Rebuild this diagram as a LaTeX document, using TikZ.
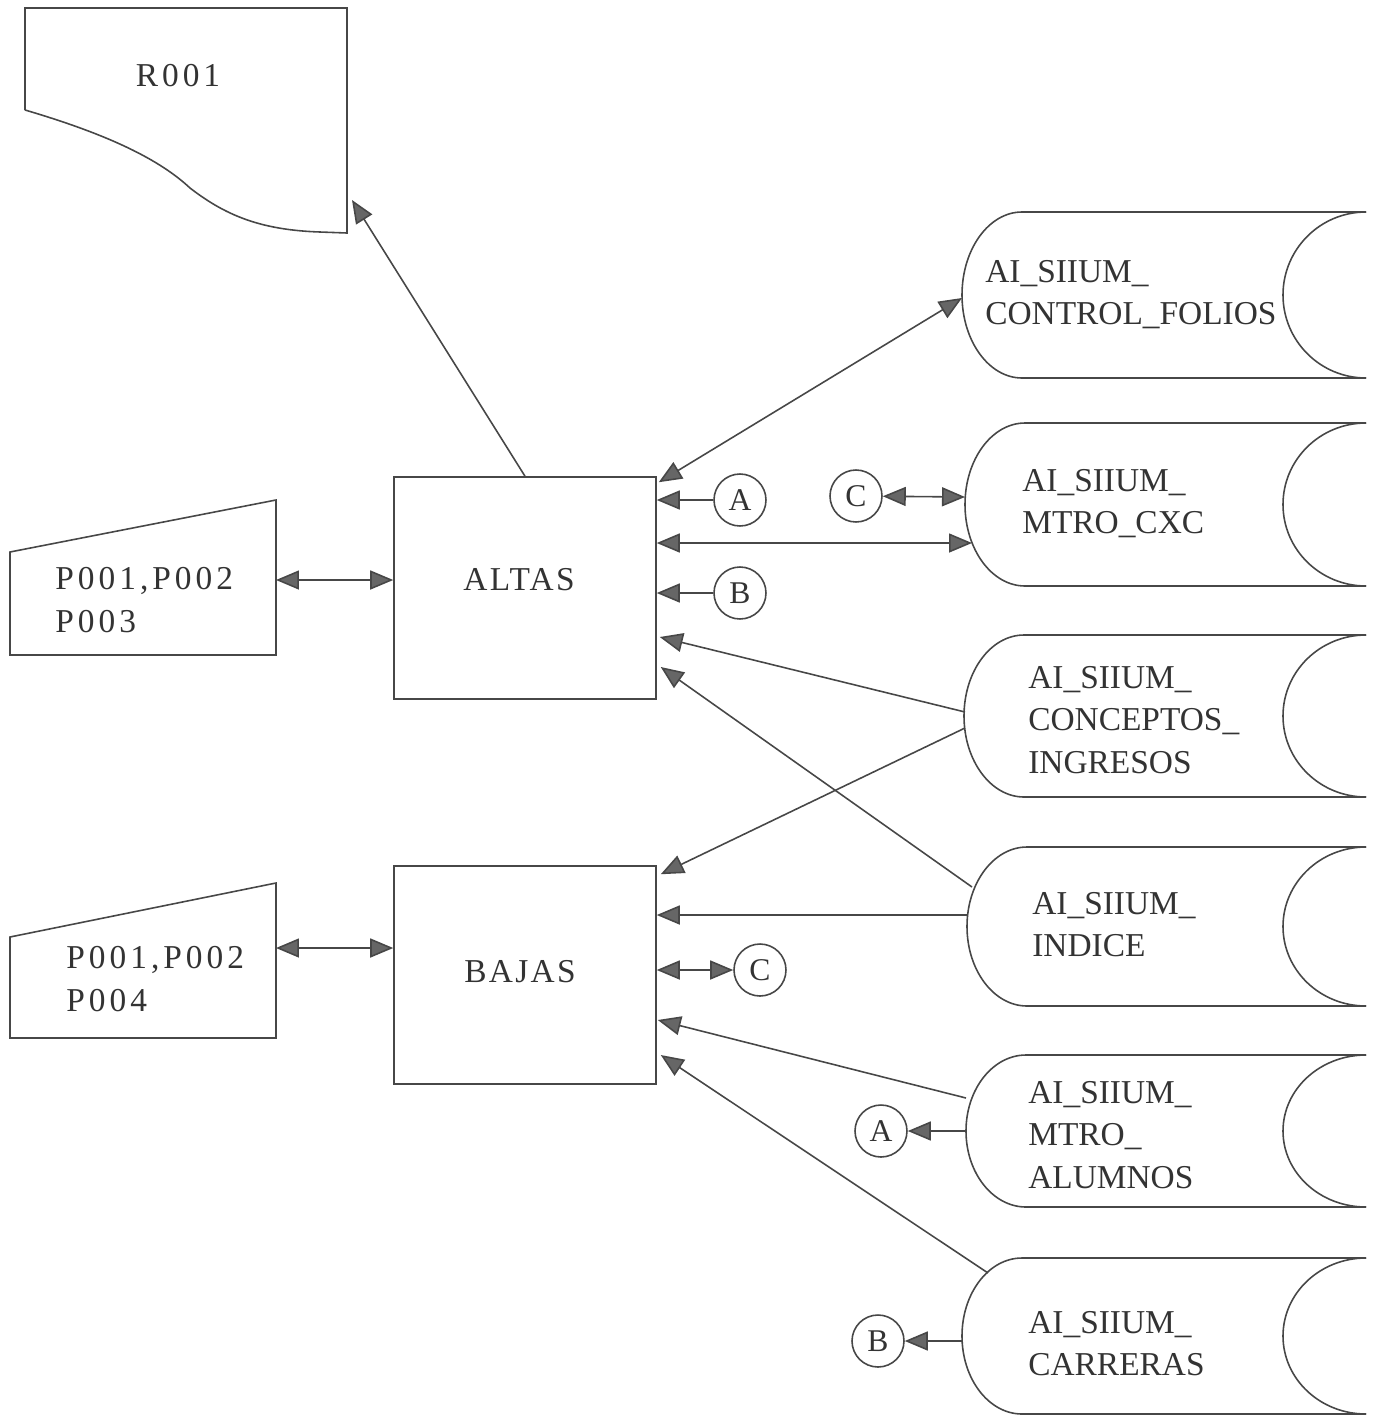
\documentclass[tikz,border=0pt]{standalone}
\usepackage{fontspec}
\setmainfont{Liberation Serif}
\newfontfamily\widefont[LetterSpace=12]{Liberation Serif}
\newfontfamily\midfont[LetterSpace=7]{Liberation Serif}
\usetikzlibrary{arrows.meta,calc}
\newcommand{\storageshape}[3]{% top, bottom, leftmost x
  \pgfmathsetmacro\hh{(#2-#1)/2}
  \draw[ln] (1366,#1) -- (#3+60,#1) arc[start angle=270,end angle=90,x radius=60,y radius=\hh] -- (1366,#2);
  \draw[ln] (1366,#1) arc[start angle=270,end angle=90,x radius=83,y radius=\hh];
}
\begin{document}
\begin{tikzpicture}[x=0.02cm,y=-0.02cm,
  ln/.style={draw=black!72, line width=0.9pt},
  >={Triangle[length=4.6mm,width=3.8mm,fill=black!60]},
  arr/.style={ln,->},
  darr/.style={ln,<->},
  txt/.style={font=\fontsize{19pt}{24pt}\selectfont, text=black!80, inner sep=0pt, align=left},
  procbox/.style={ln, minimum width=5.24cm, inner sep=0pt, font=\fontsize{19pt}{24pt}\selectfont\midfont, text=black!80},
  conn/.style={ln, circle, minimum size=1.04cm, inner sep=0pt, font=\fontsize{18pt}{22pt}\selectfont, text=black!80}]
\useasboundingbox (0,0) rectangle (1376,1417);

% ---- R001 report ----
\draw[ln] (25,110) -- (25,8) -- (347,8) -- (347,233) -- (320,232)
  .. controls (260,230) and (225,215) .. (190,188)
  .. controls (160,160) and (110,135) .. (25,110);
\node[txt, font=\fontsize{19pt}{24pt}\selectfont\widefont] (r001) at (178,76) {R001};
\coordinate (r001in) at (352,200);

% ---- process boxes ----
\node[procbox, minimum height=4.44cm] (altas) at (525,588) {\hspace*{-0.24cm}\raisebox{0.36cm}{ALTAS}};
\node[procbox, minimum height=4.36cm] (bajas) at (525,975) {\hspace*{-0.2cm}\raisebox{0.16cm}{BAJAS}};

% ---- screens ----
\draw[ln] (10,655) -- (10,552) -- (276,500) -- (276,655) -- cycle;
\node[txt, font=\fontsize{19pt}{24pt}\selectfont\widefont, anchor=west] (p1) at (55,600) {P001,P002\\P003};
\coordinate (p1r) at (276,580);
\draw[ln] (10,1038) -- (10,937) -- (276,883) -- (276,1038) -- cycle;
\node[txt, font=\fontsize{19pt}{24pt}\selectfont\widefont, anchor=west] (p2) at (66,979) {P001,P002\\P004};
\coordinate (p2r) at (276,948);

% ---- storage shapes ----
\storageshape{212}{378}{962}
\node[txt, anchor=west] (s1) at (985,295) {AI\_SIIUM\_\\CONTROL\_FOLIOS};
\storageshape{423}{586}{965}
\node[txt, anchor=west] (s2) at (1022,504) {AI\_SIIUM\_\\MTRO\_CXC};
\storageshape{635}{797}{964}
\node[txt, anchor=west] (s3) at (1028,720) {AI\_SIIUM\_\\CONCEPTOS\_\\INGRESOS};
\storageshape{847}{1006}{967}
\node[txt, anchor=west] (s4) at (1032,925) {AI\_SIIUM\_\\INDICE};
\storageshape{1055}{1207}{966}
\node[txt, anchor=west] (s5) at (1028,1135) {AI\_SIIUM\_\\MTRO\_\\ALUMNOS};
\storageshape{1258}{1414}{962}
\node[txt, anchor=west] (s6) at (1028,1344) {AI\_SIIUM\_\\CARRERAS};

% arc attachment points
\coordinate (s1a) at (962,298);
\coordinate (s2a) at (965,497);
\coordinate (s2b) at (972,543);
\coordinate (s3a) at (965,712);
\coordinate (s3b) at (965,728);
\coordinate (s4a) at (972,887);
\coordinate (s4b) at (967,915);
\coordinate (s5a) at (966,1098);
\coordinate (s5b) at (966,1131);
\coordinate (s6a) at (988,1273);
\coordinate (s6b) at (962,1341);

% ---- connectors (off-page) ----
\node[conn] (cA1) at (740,500) {A};
\node[conn] (cB1) at (740,593) {B};
\node[conn] (cC1) at (856,496) {C};
\node[conn] (cC2) at (760,970) {C};
\node[conn] (cA2) at (881,1131) {A};
\node[conn] (cB2) at (878,1341) {B};

% ---- flows ----
\draw[arr] (altas.north) -- (r001in);
\draw[darr] (p1r) -- (altas.west |- p1r);
\draw[darr] (p2r) -- (bajas.west |- p2r);

\draw[darr] ($(altas.north east)+(2,6)$) -- (s1a);
\draw[arr] (cA1) -- (altas.east |- cA1);
\draw[darr] (cC1) -- (s2a);
\draw[darr] (altas.east |- s2b) -- (s2b);
\draw[arr] (cB1) -- (altas.east |- cB1);
\draw[arr] (s3a) -- ($(altas.east)+(3,49)$);
\draw[arr] (s4a) -- ($(altas.east)+(4,79)$);

\draw[arr] (s3b) -- ($(bajas.north east)+(4,9)$);
\draw[arr] (s4b) -- (bajas.east |- s4b);
\draw[darr] (bajas.east |- cC2) -- (cC2);
\draw[arr] (s5a) -- ($(bajas.east)+(1,45)$);
\draw[arr] (s6a) -- ($(bajas.east)+(4,80)$);
\draw[arr] (s5b) -- (cA2);
\draw[arr] (s6b) -- (cB2);
\end{tikzpicture}
\end{document}
